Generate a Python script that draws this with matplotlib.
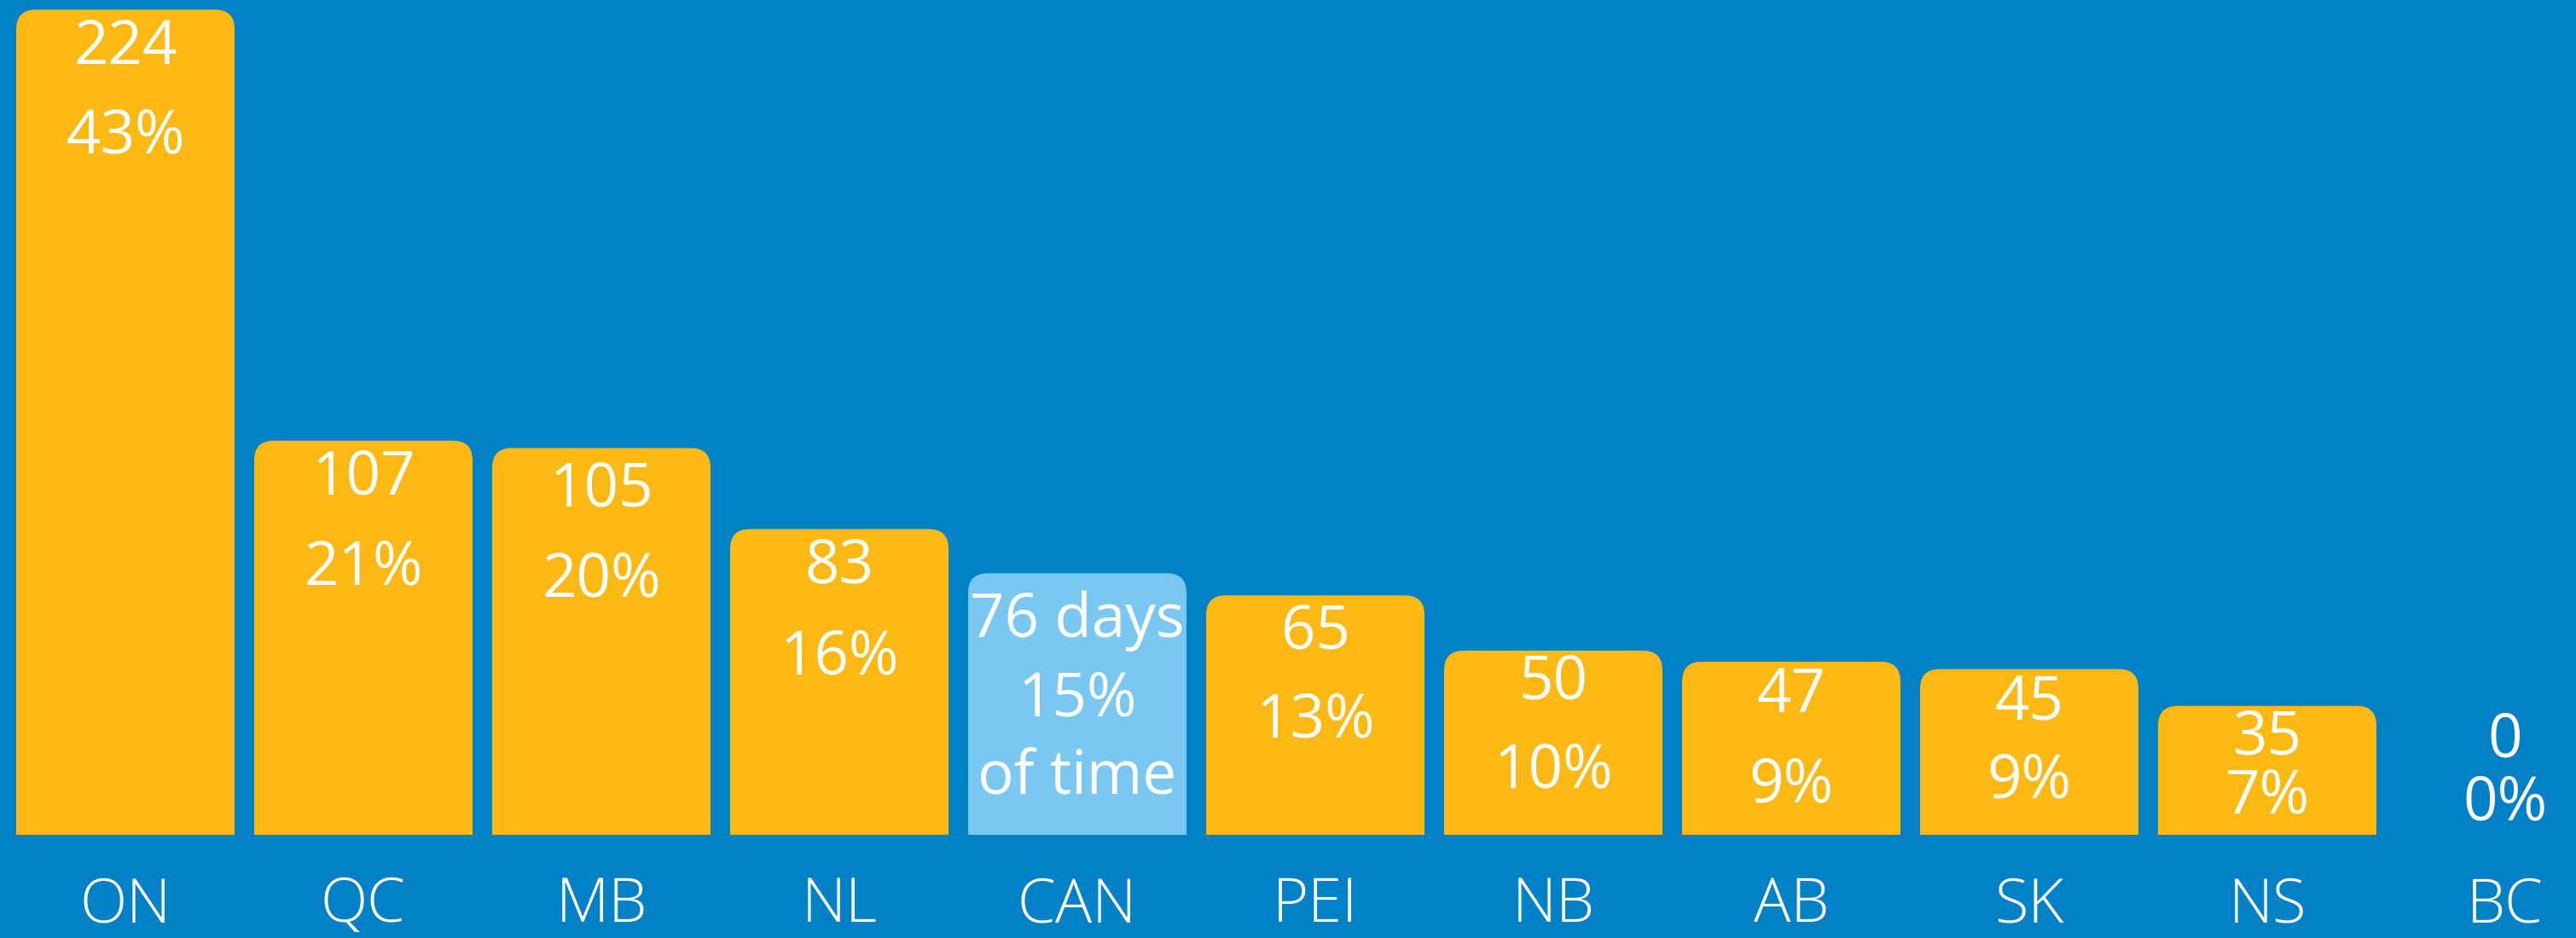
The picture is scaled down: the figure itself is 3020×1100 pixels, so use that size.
import matplotlib
matplotlib.use("Agg")
import matplotlib.pyplot as plt
from matplotlib.patches import FancyBboxPatch, Rectangle

provinces = ['ON', 'QC', 'MB', 'NL', 'CAN', 'PEI', 'NB', 'AB', 'SK', 'NS', 'BC']
days = [224, 107, 105, 83, 76, 65, 50, 47, 45, 35, 0]
# drawn bar heights (CAN bar is drawn a bit short of 76)
bar_days = [224, 107, 105, 83, 71, 65, 50, 47, 45, 35, 0]
pct = [43, 21, 20, 16, 15, 13, 10, 9, 9, 7, 0]

BG = '#0281C6'
ORANGE = '#FDB913'
LIGHT = '#7AC7F2'

plt.rcParams['font.family'] = ['Open Sans', 'DejaVu Sans']

W, H, DPI = 3020, 1100, 100
fig = plt.figure(figsize=(W / DPI, H / DPI), dpi=DPI, facecolor=BG)
ax = fig.add_axes([0, 0, 1, 1], facecolor=BG)

PX_X = 279.0    # pixels per category slot
PX_Y = 4.32     # pixels per day
x0 = -147 / PX_X
ax.set_xlim(x0, x0 + W / PX_X)
ymin = -(H - 979) / PX_Y
ax.set_ylim(ymin, ymin + H / PX_Y)
ax.axis('off')

def py(p):
    return p / PX_Y

width = 256 / PX_X
r_px = 23
r_x = r_px / PX_X
aspect = PX_X / PX_Y

# label baselines in pixels: number baseline below bar top, gap to the percent line
num_off = [64, 63, 68, 63, 75, 62, 56, 59, 60, 57, -92]
line_gap = [104, 106, 106, 107, 92, 104, 104, 106, 91, 69, 74]

for i, (p, h) in enumerate(zip(provinces, bar_days)):
    color = LIGHT if p == 'CAN' else ORANGE
    left = i - width / 2
    if h > 0:
        ax.add_patch(FancyBboxPatch((left, 0), width, h,
                                    boxstyle=f"round,pad=0,rounding_size={r_x}",
                                    mutation_aspect=aspect, fc=color, ec='none'))
        ax.add_patch(Rectangle((left, 0), width, max(h - py(r_px) - 1, 0),
                               fc=color, ec='none'))

    ny = h - py(num_off[i])
    first = f"{days[i]} days" if p == 'CAN' else f"{days[i]}"
    ax.text(i, ny, first, ha='center', va='baseline', color='white', fontsize=51)
    ax.text(i, ny - py(line_gap[i]), f"{pct[i]}%", ha='center', va='baseline',
            color='white', fontsize=51)
    if p == 'CAN':
        ax.text(i, ny - 2 * py(line_gap[i]), "of time", ha='center', va='baseline',
                color='white', fontsize=51)

    ax.text(i, -py(1081 - 979), p, ha='center', va='baseline', color='white',
            fontsize=52, fontweight='light')

fig.savefig('out.png', dpi=DPI, facecolor=BG)
